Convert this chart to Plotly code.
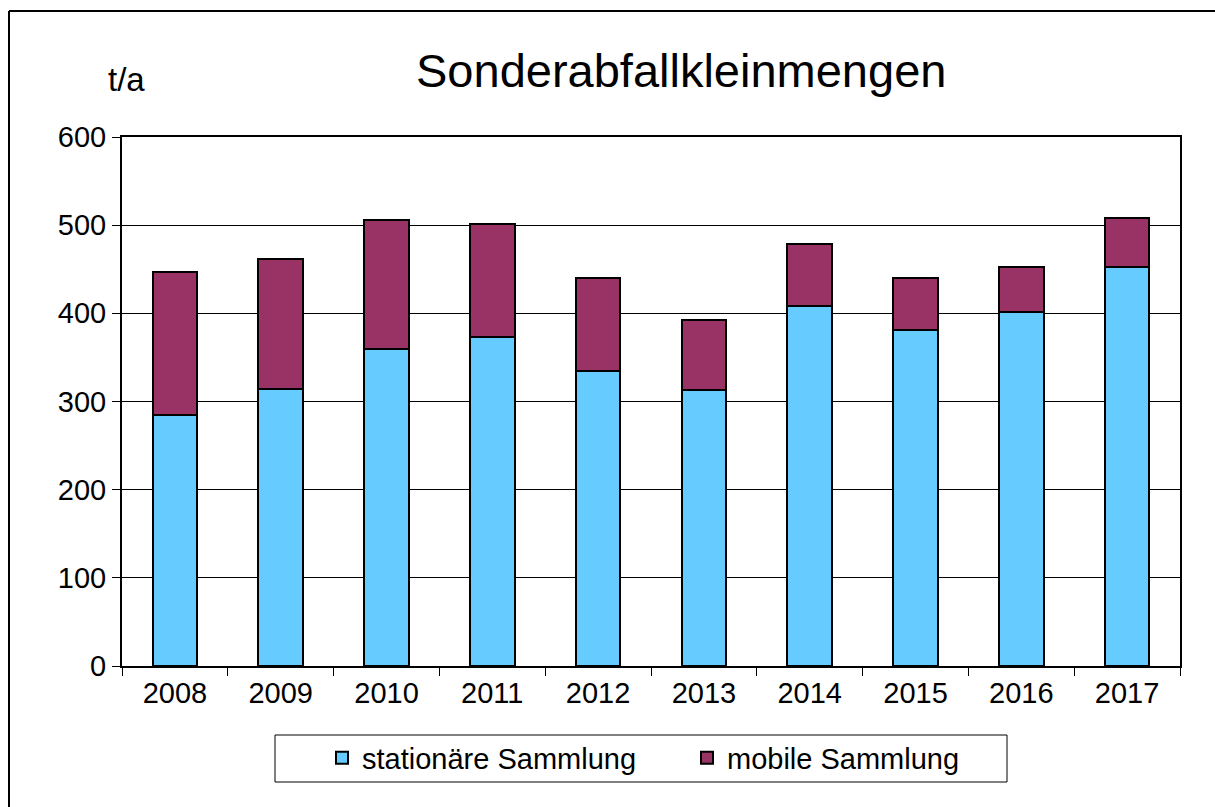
import plotly.graph_objects as go

years = ["2008", "2009", "2010", "2011", "2012", "2013", "2014", "2015", "2016", "2017"]
stationaer = [285, 314, 359, 373, 335, 313, 408, 381, 402, 453]
gesamt = [447, 462, 506, 501, 440, 393, 479, 440, 453, 508]
mobil = [g - s for g, s in zip(gesamt, stationaer)]
y_ticks = [0, 100, 200, 300, 400, 500, 600]

FONT = "Liberation Sans, Arial, sans-serif"
W, H = 1215, 807
# plot area in screen coordinates
SX0, SX1, SY0, SY1 = 122, 1180, 137, 666
L, T = SX0, SY0
R = W - SX1
B = H - SY1
pw, ph = SX1 - SX0, SY1 - SY0

def px(x):
    return (x - SX0) / pw

def py(y):
    return (SY1 - y) / ph

fig = go.Figure()
fig.add_trace(go.Bar(x=years, y=stationaer, name="stationäre Sammlung",
                     marker=dict(color="#66CCFF", line=dict(color="black", width=2))))
fig.add_trace(go.Bar(x=years, y=mobil, name="mobile Sammlung",
                     marker=dict(color="#993366", line=dict(color="black", width=2))))

fig.update_layout(
    width=W, height=H,
    barmode="stack", bargap=0.58,
    margin=dict(l=L, r=R, t=T, b=B),
    paper_bgcolor="white", plot_bgcolor="white",
    font=dict(family=FONT, size=29, color="black"),
    showlegend=True,
    legend=dict(orientation="h", x=px(322), xanchor="left", y=py(758), yanchor="middle",
                font=dict(family=FONT, size=29, color="black"),
                borderwidth=0, bgcolor="rgba(0,0,0,0)",
                entrywidth=320, entrywidthmode="pixels", traceorder="normal"),
    xaxis=dict(type="category", showline=True, linecolor="black", linewidth=2, mirror=True,
               ticks="outside", ticklen=8, tickcolor="black", tickwidth=1, tickson="boundaries",
               tickfont=dict(family=FONT, size=29, color="black"), showgrid=False),
    yaxis=dict(range=[0, 600], tickvals=y_ticks, showline=True, linecolor="black", linewidth=2,
               mirror=True, ticks="outside", ticklen=8, tickcolor="black", tickwidth=1,
               showgrid=True, gridcolor="black", gridwidth=1, zeroline=False,
               tickfont=dict(family=FONT, size=29, color="black")),
    shapes=[
        dict(type="rect", xref="paper", yref="paper", x0=px(275), x1=px(1007), y0=py(735), y1=py(782),
             line=dict(color="black", width=1), fillcolor="rgba(0,0,0,0)"),
        dict(type="line", xref="paper", yref="paper", x0=px(9), x1=px(1300), y0=py(11), y1=py(11),
             line=dict(color="black", width=2)),
        dict(type="line", xref="paper", yref="paper", x0=px(9), x1=px(9), y0=py(11), y1=py(900),
             line=dict(color="black", width=2)),
    ],
    annotations=[
        dict(text="Sonderabfallkleinmengen", xref="paper", yref="paper", x=px(681), y=py(71),
             xanchor="center", yanchor="middle", showarrow=False,
             font=dict(family=FONT, size=47, color="black")),
        dict(text="t/a", xref="paper", yref="paper", x=px(126), y=py(79),
             xanchor="center", yanchor="middle", showarrow=False,
             font=dict(family=FONT, size=33, color="black")),
    ],
)

fig.write_html("out.html", config={"displayModeBar": False},
               post_script="document.body.style.margin='0';document.body.style.overflow='hidden';")
